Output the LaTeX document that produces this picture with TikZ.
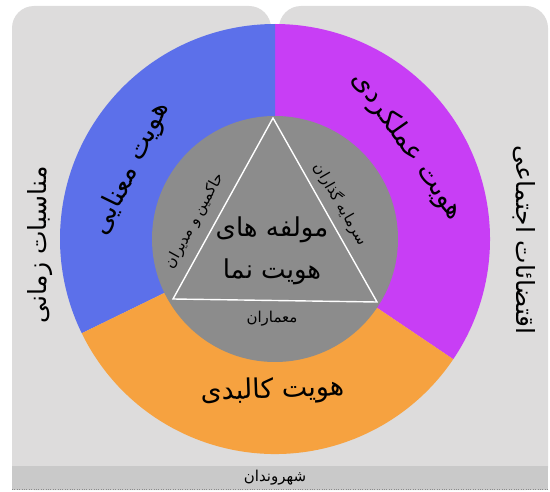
\documentclass[tikz,border=0pt]{standalone}
\usepackage{fontspec}
\newfontfamily\arabicfont[Script=Arabic]{DejaVu Sans}
\TeXXeTstate=1

\definecolor{panelgray}{RGB}{221,220,220}
\definecolor{stripgray}{RGB}{201,201,201}
\definecolor{ringblue}{RGB}{92,112,234}
\definecolor{ringpurple}{RGB}{200,62,245}
\definecolor{ringorange}{RGB}{246,162,64}
\definecolor{coregray}{RGB}{140,140,140}

\begin{document}
\begin{tikzpicture}[
    x=1pt, y=1pt,
    bigtext/.style={font=\arabicfont\fontsize{27}{30}\selectfont},
    sidetext/.style={font=\arabicfont\fontsize{25}{28}\selectfont},
    midtext/.style={font=\arabicfont\fontsize{26}{42}\selectfont, align=center},
    smalltext/.style={font=\arabicfont\fontsize{15}{17}\selectfont}]

    \useasboundingbox (0,0) rectangle (550,491);

    % two light gray panels behind the ring, joined below
    \fill [panelgray, rounded corners=22pt] (12,1) rectangle (271,485);
    \fill [panelgray, rounded corners=22pt] (279,1) rectangle (548,485);
    \fill [panelgray] (250,1) rectangle (300,400);

    % strip at the bottom with a dotted edge
    \fill [stripgray] (12,1) rectangle (548,25);
    \draw [dotted, black!45] (12,1.5) -- (548,1.5);

    % centre of the ring
    \coordinate (c) at (275,252);

    % three sectors of the ring
    \fill [ringpurple] (c) -- ++(-34:215pt) arc (-34:90:215pt) -- cycle;
    \fill [ringblue] (c) -- ++(90:215pt) arc (90:206:215pt) -- cycle;
    \fill [ringorange] (c) -- ++(206:215pt) arc (206:326:215pt) -- cycle;

    % gray disc in the middle
    \fill [coregray] (c) circle (123pt);

    % white triangle
    \coordinate (apex) at (273,373);
    \coordinate (bl) at (173,192);
    \coordinate (br) at (377,189);
    \draw [white, line width=1.4pt] (apex) -- (bl) -- (br) -- cycle;

    % labels of the sectors
    \node [bigtext, rotate=-55] at ([shift={(35:162)}]c) (func) {\beginR هویت عملکردی\endR};
    \node [bigtext, rotate=64] at ([shift={(154:160)}]c) (mean) {\beginR هویت معنایی\endR};
    \node [bigtext, rotate=2] at ([shift={(-91:152)}]c) (body) {\beginR هویت کالبدی\endR};

    % text in the triangle
    \node [midtext] at (272,240) (core) {\beginR مولفه های\endR\\\beginR هویت نما\endR};

    % labels on the sides of the triangle
    \node [smalltext, rotate=61] at (195,270) (rulers) {\beginR حاکمین و مدیران\endR};
    \node [smalltext, rotate=-60] at (341,287) (invest) {\beginR سرمایه گذاران\endR};
    \node [smalltext] at (272,172) (archi) {\beginR معماران\endR};

    % labels on the panels and the strip
    \node [sidetext, rotate=-90] at (524,251) (social) {\beginR اقتضائات اجتماعی\endR};
    \node [sidetext, rotate=90] at (40,246) (time) {\beginR مناسبات زمانی\endR};
    \node [smalltext] at (275,13) (citizens) {\beginR شهروندان\endR};

\end{tikzpicture}
\end{document}
